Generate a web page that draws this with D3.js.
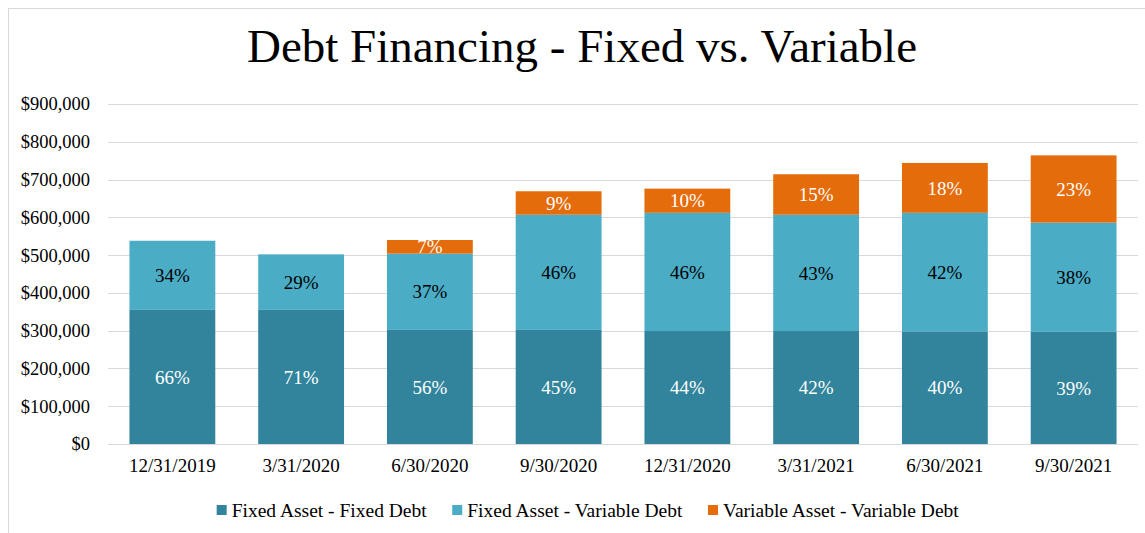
<!DOCTYPE html>
<html>
<head>
<meta charset="utf-8">
<script src="https://cdn.jsdelivr.net/npm/d3@7"></script>
<style>
  body { margin: 0; background: #fff; }
  svg { display: block; }
  svg text { font-family: "Liberation Serif", "Tinos", "DejaVu Serif", serif; }
</style>
</head>
<body>
<div id="chart"></div>
<script>
// quarter ends
const periods = ['12/31/2019', '3/31/2020', '6/30/2020', '9/30/2020', '12/31/2020', '3/31/2021', '6/30/2021', '9/30/2021'];

// debt amounts in $
const fixedFixed = [355000, 355000, 302000, 302000, 299000, 299000, 298000, 297000];
const fixedVariable = [183000, 147000, 202000, 305000, 313000, 308000, 314000, 289000];
const variableVariable = [0, 0, 36000, 62000, 64000, 107000, 132000, 178000];

// percent labels as printed on the chart
const fixedFixedPct = ['66%', '71%', '56%', '45%', '44%', '42%', '40%', '39%'];
const fixedVariablePct = ['34%', '29%', '37%', '46%', '46%', '43%', '42%', '38%'];
const variableVariablePct = ['', '', '7%', '9%', '10%', '15%', '18%', '23%'];

const yTicks = [0, 100000, 200000, 300000, 400000, 500000, 600000, 700000, 800000, 900000];

const seriesNames = ['Fixed Asset - Fixed Debt', 'Fixed Asset - Variable Debt', 'Variable Asset - Variable Debt'];
const colors = ['#31849B', '#4BACC6', '#E46C0A'];
const labelColors = ['#fff', '#000', '#fff'];

const width = 1145, height = 533;
const margin = { top: 104, right: 7, bottom: 89, left: 108 };

const rows = periods.map((p, i) => ({
    period: p,
    ff: fixedFixed[i],
    fv: fixedVariable[i],
    vv: variableVariable[i]
}));
const keys = ['ff', 'fv', 'vv'];
const pctLabels = [fixedFixedPct, fixedVariablePct, variableVariablePct];

const svg = d3.select('#chart').append('svg')
    .attr('width', width)
    .attr('height', height);

// chart frame
svg.append('rect')
    .attr('x', 8.5).attr('y', 8.5)
    .attr('width', 1160).attr('height', 540)
    .attr('fill', 'none')
    .attr('stroke', '#d9d9d9');

const x = d3.scaleBand()
    .domain(periods)
    .range([margin.left, width - margin.right])
    .paddingInner(1 / 3)
    .paddingOuter(1 / 6);

const y = d3.scaleLinear()
    .domain([0, 900000])
    .range([height - margin.bottom, margin.top]);

// gridlines
svg.append('g')
    .selectAll('line')
    .data(yTicks)
    .enter().append('line')
    .attr('x1', margin.left)
    .attr('x2', width - margin.right)
    .attr('y1', d => Math.round(y(d)) + 0.5)
    .attr('y2', d => Math.round(y(d)) + 0.5)
    .attr('stroke', '#d9d9d9')
    .attr('stroke-width', 1);

// y axis labels
const yAxis = svg.append('g')
    .attr('transform', `translate(${margin.left - 15},0)`)
    .call(d3.axisLeft(y).tickValues(yTicks).tickSize(0).tickFormat(d => '$' + d3.format(',')(d)));
yAxis.select('.domain').remove();
yAxis.selectAll('text')
    .attr('font-size', 18.5)
    .attr('fill', '#000')
    .attr('dx', 0);

// x axis labels
const xAxis = svg.append('g')
    .attr('transform', `translate(0,${height - margin.bottom})`)
    .call(d3.axisBottom(x).tickSize(0).tickPadding(15));
xAxis.select('.domain').remove();
xAxis.selectAll('text')
    .attr('font-size', 19)
    .attr('fill', '#000');

const stacked = d3.stack().keys(keys)(rows);

const layers = svg.append('g')
    .selectAll('g')
    .data(stacked)
    .enter().append('g')
    .attr('fill', (d, i) => colors[i]);

layers.selectAll('rect')
    .data(d => d)
    .enter().append('rect')
    .attr('x', d => x(d.data.period))
    .attr('width', x.bandwidth())
    .attr('y', d => y(d[1]))
    .attr('height', d => y(d[0]) - y(d[1]));

// percent labels
stacked.forEach((layer, li) => {
    svg.append('g')
        .selectAll('text')
        .data(layer.filter((d, i) => pctLabels[li][i] !== ''))
        .enter().append('text')
        .attr('x', d => x(d.data.period) + x.bandwidth() / 2)
        .attr('y', d => (y(d[0]) + y(d[1])) / 2)
        .attr('dy', '0.35em')
        .attr('text-anchor', 'middle')
        .attr('font-size', 19)
        .attr('fill', labelColors[li])
        .text(d => pctLabels[li][periods.indexOf(d.data.period)]);
});

// title
svg.append('text')
    .attr('x', 582)
    .attr('y', 62)
    .attr('text-anchor', 'middle')
    .attr('font-size', 47)
    .attr('fill', '#000')
    .text('Debt Financing - Fixed vs. Variable');

// legend
const legend = svg.append('g');
const items = legend.selectAll('g')
    .data(seriesNames)
    .enter().append('g');
items.append('rect')
    .attr('width', 10).attr('height', 10)
    .attr('y', -5)
    .attr('fill', (d, i) => colors[i]);
items.append('text')
    .attr('x', 15)
    .attr('dy', '0.35em')
    .attr('font-size', 19.5)
    .attr('fill', '#000')
    .text(d => d);
let offset = 0;
items.each(function() {
    d3.select(this).attr('transform', `translate(${offset},0)`);
    offset += this.getBBox().width + 25;
});
const legendWidth = offset - 25;
legend.attr('transform', `translate(${588 - legendWidth / 2},${510})`);
</script>
</body>
</html>
